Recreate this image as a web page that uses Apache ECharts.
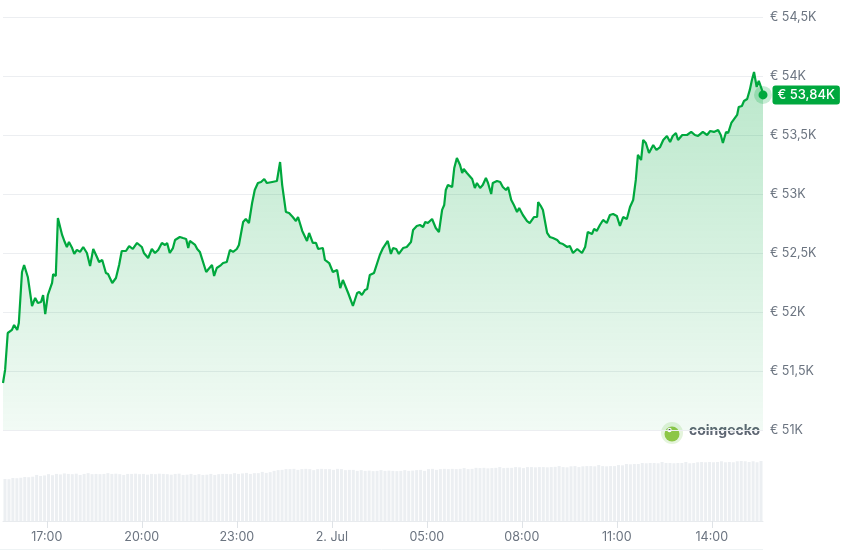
<!DOCTYPE html>
<html>
<head>
<meta charset="utf-8">
<script src="https://cdn.jsdelivr.net/npm/echarts@6/dist/echarts.min.js"></script>
<style>
html,body{margin:0;padding:0;background:#fff;}
#c{width:845px;height:551px;}
</style>
</head>
<body>
<div id="c"></div>
<script>
// time in minutes since 1 Jul 00:00 (local), price in EUR
var priceTimes = [937,941,946,954,958,964,967,973,977,984,992,998,1003,1009,1013,1017,1022,1030,1032,1037,1041,1049,1054,1058,1062,1068,1072,1077,1083,1089,1096,1102,1108,1115,1119,1125,1132,1136,1144,1151,1157,1162,1170,1176,1183,1191,1200,1204,1212,1219,1225,1231,1238,1244,1248,1253,1259,1263,1272,1278,1284,1288,1291,1301,1305,1310,1322,1325,1333,1337,1342,1350,1354,1361,1367,1373,1380,1384,1392,1397,1403,1409,1414,1420,1426,1432,1437,1447,1456,1462,1466,1473,1479,1486,1492,1496,1504,1507,1513,1517,1524,1530,1534,1543,1547,1555,1562,1570,1576,1581,1591,1600,1608,1612,1617,1623,1627,1632,1640,1651,1657,1666,1672,1676,1682,1687,1695,1702,1710,1714,1721,1727,1733,1737,1742,1750,1752,1757,1763,1769,1773,1776,1780,1788,1792,1797,1803,1807,1810,1816,1826,1831,1835,1841,1846,1852,1856,1862,1865,1873,1879,1884,1890,1894,1900,1905,1911,1915,1922,1930,1935,1943,1949,1951,1956,1960,1968,1973,1979,1987,1992,1998,2006,2011,2017,2025,2034,2040,2045,2053,2057,2062,2068,2074,2081,2087,2093,2100,2106,2112,2119,2125,2131,2136,2140,2146,2150,2155,2161,2169,2175,2182,2188,2195,2201,2206,2212,2216,2224,2233,2241,2248,2254,2263,2271,2277,2284,2292,2297,2301,2307,2311,2317,2320,2328,2331,2337,2341,2347,2352,2356,2360,2365,2369,2375,2377];
var prices = [51398,51509,51822,51848,51890,51848,51907,52339,52398,52297,52051,52119,52076,52085,52144,51983,52144,52246,52322,52305,52797,52653,52593,52551,52593,52542,52492,52526,52509,52551,52500,52390,52534,52466,52424,52441,52331,52322,52246,52288,52398,52517,52517,52559,52534,52585,52551,52500,52458,52534,52500,52526,52585,52568,52585,52500,52542,52610,52636,52627,52619,52542,52602,52568,52534,52509,52339,52356,52398,52305,52373,52398,52415,52424,52526,52509,52534,52568,52763,52788,52754,52924,53034,53093,53102,53127,53093,53102,53110,53271,53076,52848,52839,52805,52771,52805,52687,52678,52602,52670,52585,52585,52534,52542,52441,52415,52339,52356,52203,52271,52161,52051,52161,52170,52144,52187,52195,52314,52331,52483,52542,52602,52492,52542,52534,52492,52542,52551,52593,52695,52729,52737,52720,52763,52754,52788,52797,52712,52678,52865,52907,53034,53076,53059,53220,53305,53246,53178,53212,53178,53127,53051,53093,53051,53076,53136,53093,53000,53093,53110,53102,53059,53034,53059,52949,52907,52848,52881,52822,52771,52754,52805,52805,52932,52898,52865,52670,52636,52627,52610,52585,52576,52551,52559,52500,52534,52500,52551,52678,52661,52704,52687,52737,52780,52754,52822,52831,52814,52729,52805,52788,52890,52949,53119,53331,53288,53458,53432,53348,53415,53373,53398,53458,53492,53441,53492,53517,53458,53500,53500,53526,53500,53492,53526,53500,53534,53526,53543,53500,53432,53526,53517,53602,53610,53670,53737,53746,53788,53805,53882,53966,54034,53907,53958,53882,53840];

// volume per 7.5-minute bucket (billion EUR, estimated)
var volumes = [
16.6,16.5,17.0,16.9,17.1,17.4,17.3,17.5,
18.2,17.8,18.0,18.5,18.1,18.6,18.4,18.8,
18.6,18.5,18.7,18.2,18.6,18.9,18.5,18.6,
18.5,18.6,18.9,18.6,18.7,18.5,18.2,18.6,
18.6,18.7,18.5,18.6,18.3,18.6,18.5,18.7,
18.6,18.5,18.3,18.6,18.7,18.2,18.3,18.6,
18.2,18.5,18.2,18.3,18.6,18.2,18.5,18.6,
18.6,18.5,18.9,18.6,18.8,19.0,18.6,18.9,
18.9,19.4,19.0,19.3,19.8,20.1,20.2,20.5,
20.5,20.6,20.2,20.5,20.6,20.5,20.1,20.5,
20.6,20.5,20.5,20.2,20.6,20.5,20.1,20.2,
20.2,19.8,20.1,19.8,19.9,19.7,19.8,20.1,
19.8,19.9,19.8,19.7,19.8,20.1,19.8,19.9,
20.1,20.2,19.8,20.5,20.6,20.2,20.5,20.6,
20.5,20.6,20.5,20.6,20.9,20.5,20.6,21.0,
20.9,21.0,20.8,20.9,21.0,21.3,20.9,21.0,
21.0,21.3,21.2,20.9,21.3,21.3,21.2,21.3,
21.3,21.2,21.3,21.4,21.7,21.3,21.2,21.6,
21.7,21.3,21.6,21.7,21.7,21.6,22.1,21.7,
21.6,21.7,21.7,22.1,22.0,22.5,22.4,22.5,
22.5,22.9,22.8,22.9,22.9,22.8,23.3,22.9,
22.9,22.8,22.9,22.9,23.3,22.8,22.9,23.2,
23.3,23.2,23.3,23.2,23.3,23.6,23.2,23.3,
23.2,23.6,23.7,23.6,23.3,23.6,23.2,23.7
];

var xTickValues = [1020,1200,1380,1560,1740,1920,2100,2280];
var xTickLabels = ['17:00','20:00','23:00','2. Jul','05:00','08:00','11:00','14:00'];
var yMin = 51000, yMax = 54500, yStep = 500;
var tStart = 937, tEnd = 2377, volBucket = 7.5;

function fmtEur(v){ return '€ ' + String(Math.round(v/10)/100).replace('.', ',') + 'K'; }

var priceData = priceTimes.map(function(t,i){ return [t, prices[i]]; });
var volData = volumes.map(function(v,i){ return [tStart + volBucket*(i+0.5), v]; });
var last = priceData[priceData.length-1];

var GREEN = '#00a83e';
var chart = echarts.init(document.getElementById('c'), null, {renderer:'canvas'});
chart.setOption({
  animation:false,
  textStyle:{fontFamily:'Inter, "Noto Sans", sans-serif'},
  grid:[
    {left:3, right:82, top:17, bottom:121},
    {left:3, right:82, top:440, bottom:30}
  ],
  xAxis:[
    {type:'value', gridIndex:0, min:tStart, max:tEnd, show:false},
    {type:'value', gridIndex:1, min:tStart, max:tEnd,
     axisLine:{show:true, lineStyle:{color:'#e8ebee'}},
     axisTick:{show:true, customValues:xTickValues, length:7, lineStyle:{color:'#dfe3e7'}},
     splitLine:{show:false},
     axisLabel:{customValues:xTickValues, margin:10, color:'#6b7480', fontSize:12.5,
       formatter:function(v){ var i = xTickValues.indexOf(v); return i>=0 ? xTickLabels[i] : ''; }}
    }
  ],
  yAxis:[
    {type:'value', gridIndex:0, position:'right', min:yMin, max:yMax, interval:yStep,
     axisLine:{show:false}, axisTick:{show:false},
     splitLine:{show:true, lineStyle:{color:'#eceef1', width:1}},
     axisLabel:{margin:7, color:'#6b7480', fontSize:12.5, formatter:fmtEur}
    },
    {type:'value', gridIndex:1, min:0, max:32, show:false}
  ],
  series:[
    {type:'bar', xAxisIndex:1, yAxisIndex:1, data:volData, barWidth:3,
     itemStyle:{color:'#eceff2'}, silent:true},
    {type:'line', xAxisIndex:0, yAxisIndex:0, data:priceData, showSymbol:false,
     lineStyle:{color:GREEN, width:2.2},
     areaStyle:{origin:'start', opacity:1, color:new echarts.graphic.LinearGradient(0,0,0,1,[
       {offset:0, color:'rgba(0,168,62,0.27)'},
       {offset:0.6, color:'rgba(0,168,62,0.14)'},
       {offset:1, color:'rgba(0,168,62,0.05)'}
     ])}, silent:true},
    {type:'scatter', xAxisIndex:0, yAxisIndex:0, data:[last], symbolSize:18,
     itemStyle:{color:'rgba(0,168,62,0.22)', opacity:1}, silent:true, clip:false},
    {type:'scatter', xAxisIndex:0, yAxisIndex:0, data:[last], symbolSize:9, clip:false,
     itemStyle:{color:GREEN, opacity:1}, silent:true,
     label:{show:true, position:'right', distance:5, formatter:function(p){ return fmtEur(p.value[1]); },
       backgroundColor:GREEN, borderRadius:3, padding:[3,5,3,5], color:'#fff', fontSize:13, fontWeight:500,
       fontFamily:'Inter, sans-serif'}}
  ],
  graphic:[
    {type:'circle', shape:{cx:672, cy:433, r:11}, style:{fill:'#e4f4dc'}, silent:true},
    {type:'circle', shape:{cx:672, cy:434, r:7.5}, style:{fill:'#8dc647'}, silent:true},
    {type:'circle', shape:{cx:669.5, cy:430, r:2.2}, style:{fill:'#ffffff'}, silent:true},
    {type:'circle', shape:{cx:669.5, cy:430, r:1}, style:{fill:'#3a3a3a'}, silent:true},
    {type:'text', left:689, top:424, style:{text:'coingecko', fill:'#5e6673', font:'700 14px Inter, sans-serif'}, silent:true},
    {type:'line', shape:{x1:0, y1:549.5, x2:763, y2:549.5}, style:{stroke:'#eef3f4', lineWidth:1}, silent:true}
  ]
});
</script>
</body>
</html>
